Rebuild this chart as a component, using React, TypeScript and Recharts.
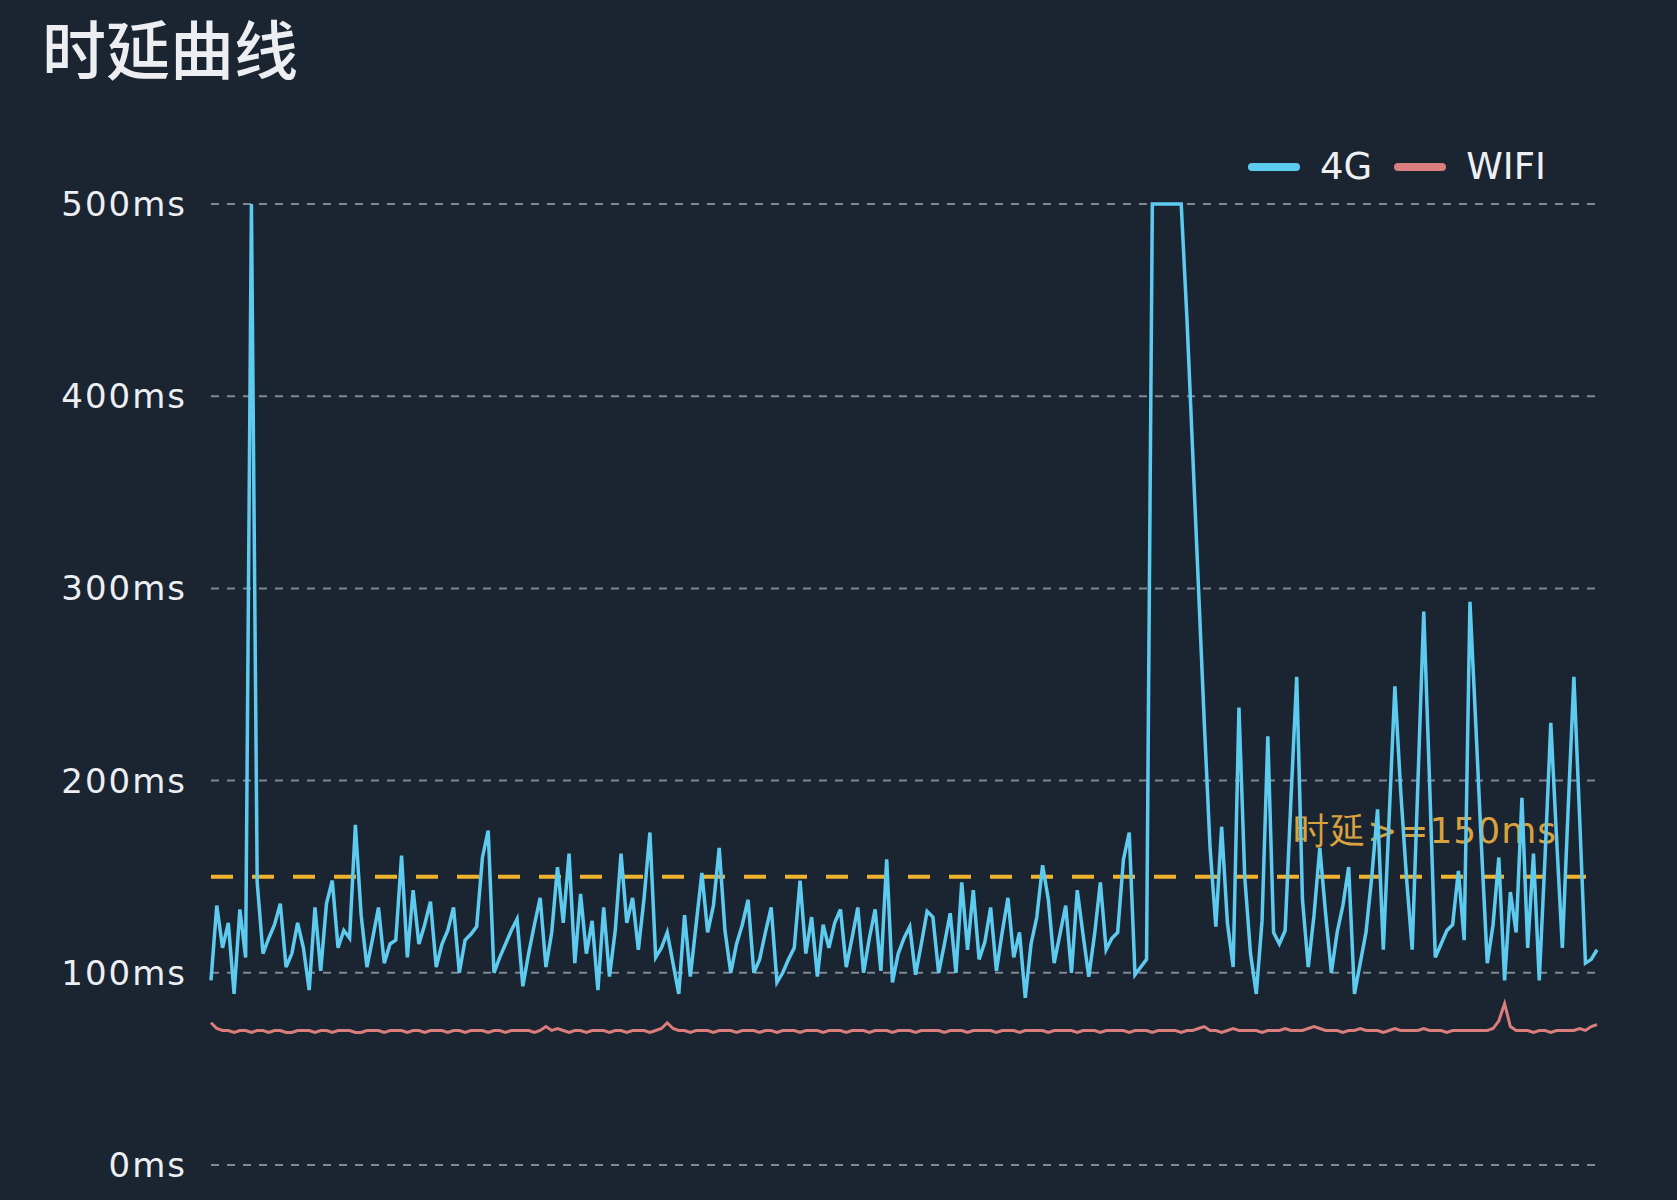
import React from 'react';
import { LineChart, Line, XAxis, YAxis, CartesianGrid, ReferenceLine } from 'recharts';

// latency samples (ms)
const latency4g = [
  96, 135, 113, 126, 89, 133, 108, 500, 147, 110, 118, 125, 136, 103, 110, 126, 113, 91, 134, 101,
  136, 148, 113, 122, 118, 177, 130, 103, 118, 134, 105, 115, 117, 161, 108, 143, 115, 125, 137, 103,
  115, 122, 134, 100, 117, 120, 124, 160, 174, 100, 108, 115, 122, 128, 93, 110, 125, 139, 103, 121,
  155, 126, 162, 105, 141, 110, 127, 91, 134, 98, 122, 162, 126, 139, 112, 139, 173, 108, 113, 121,
  105, 89, 130, 98, 125, 152, 121, 135, 165, 122, 100, 115, 125, 138, 100, 107, 121, 134, 95, 100,
  107, 113, 148, 110, 129, 98, 125, 113, 126, 133, 103, 118, 134, 100, 118, 133, 101, 159, 95, 110,
  118, 124, 99, 115, 132, 129, 100, 115, 131, 100, 147, 112, 143, 107, 116, 134, 101, 121, 139, 108,
  121, 87, 115, 129, 156, 138, 105, 120, 135, 100, 143, 120, 98, 120, 147, 112, 118, 121, 159, 173,
  99, 103, 107, 500, 500, 500, 500, 500, 500, 440, 370, 300, 230, 165, 124, 176, 126, 103, 238, 150,
  110, 89, 127, 223, 121, 115, 122, 190, 254, 138, 103, 130, 165, 131, 100, 121, 135, 155, 89, 105,
  121, 150, 185, 112, 180, 249, 195, 150, 112, 200, 288, 200, 108, 115, 122, 125, 153, 117, 293, 230,
  165, 105, 125, 160, 96, 142, 121, 191, 113, 162, 96, 160, 230, 170, 113, 185, 254, 180, 105, 107,
  112,
];

const latencyWifi = [
  74, 71, 70, 70, 69, 70, 70, 69, 70, 70, 69, 70, 70, 69, 69, 70, 70, 70, 69, 70,
  70, 69, 70, 70, 70, 69, 69, 70, 70, 70, 69, 70, 70, 70, 69, 70, 70, 69, 70, 70,
  70, 69, 70, 70, 69, 70, 70, 70, 69, 70, 70, 69, 70, 70, 70, 70, 69, 70, 72, 70,
  71, 70, 69, 70, 70, 69, 70, 70, 70, 69, 70, 70, 69, 70, 70, 70, 69, 70, 71, 74,
  71, 70, 70, 69, 70, 70, 70, 69, 70, 70, 70, 69, 70, 70, 70, 69, 70, 70, 69, 70,
  70, 70, 69, 70, 70, 70, 69, 70, 70, 70, 69, 70, 70, 70, 69, 70, 70, 70, 69, 70,
  70, 70, 69, 70, 70, 70, 70, 69, 70, 70, 70, 69, 70, 70, 70, 70, 69, 70, 70, 70,
  69, 70, 70, 70, 70, 69, 70, 70, 70, 70, 69, 70, 70, 70, 69, 70, 70, 70, 70, 69,
  70, 70, 70, 69, 70, 70, 70, 70, 69, 70, 70, 71, 72, 70, 70, 69, 70, 71, 70, 70,
  70, 70, 69, 70, 70, 70, 71, 70, 70, 70, 71, 72, 71, 70, 70, 70, 69, 70, 70, 71,
  70, 70, 70, 69, 70, 71, 70, 70, 70, 70, 71, 70, 70, 70, 69, 70, 70, 70, 70, 70,
  70, 70, 71, 75, 84, 72, 70, 70, 70, 69, 70, 70, 69, 70, 70, 70, 70, 71, 70, 72,
  73,
];

const yTicks = [0, 100, 200, 300, 400, 500];
const threshold = 150;
const thresholdLabel = '时延>=150ms';
const series = [
  { key: 'g4', name: '4G', color: '#5ccbef' },
  { key: 'wifi', name: 'WIFI', color: '#d97e7c' },
];

const data = latency4g.map((v, i) => ({ idx: i, g4: v, wifi: latencyWifi[i] }));

const BG = '#1b2431';
const FONT = '"DejaVu Sans", "Noto Sans", sans-serif';

const LegendBox = () => (
  <div
    style={{
      position: 'absolute',
      left: 1248,
      top: 145,
      display: 'flex',
      alignItems: 'center',
      fontFamily: FONT,
      fontSize: 37,
      color: '#eef0f3',
    }}
  >
    {series.map((s) => (
      <div key={s.key} style={{ display: 'flex', alignItems: 'center', marginRight: 22 }}>
        <span style={{ display: 'inline-block', width: 52, height: 8, borderRadius: 4, background: s.color, marginRight: 20 }} />
        <span>{s.name}</span>
      </div>
    ))}
  </div>
);

const ThresholdLabel = (props: any) => {
  const vb = props.viewBox || {};
  return (
    <text
      x={vb.x + vb.width - 40}
      y={vb.y - 46}
      textAnchor="end"
      dominantBaseline="central"
      fill="#d9a23c"
      fontSize={36}
      fontFamily={FONT}
      letterSpacing={1}
    >
      {thresholdLabel}
    </text>
  );
};

export default function App() {
  return (
    <div style={{ position: 'fixed', left: 0, top: 0, width: 1677, height: 1200, background: BG, overflow: 'hidden' }}>
      <div
        style={{
          position: 'absolute',
          left: 42,
          top: 14,
          fontFamily: '"Noto Sans CJK SC", sans-serif',
          fontSize: 64,
          fontWeight: 500,
          lineHeight: 1,
          color: '#eceef1',
        }}
      >
        时延曲线
      </div>
      <LegendBox />
      <LineChart width={1677} height={1200} data={data} margin={{ top: 204, right: 80, bottom: 35, left: 0 }}>
        <CartesianGrid vertical={false} stroke="#7f8893" strokeWidth={2} strokeDasharray="8 8" />
        <XAxis dataKey="idx" hide />
        <YAxis
          width={211}
          domain={[0, 500]}
          ticks={yTicks}
          interval={0}
          axisLine={false}
          tickLine={false}
          tickSize={0}
          tickMargin={24}
          tickFormatter={(v: number) => `${v}ms`}
          tick={{ fill: '#eceef1', fontSize: 34, fontFamily: FONT, letterSpacing: 2 }}
        />
        <ReferenceLine
          y={threshold}
          stroke="#f0b32e"
          strokeWidth={4}
          strokeDasharray="22 19"
          label={<ThresholdLabel />}
        />
        <Line type="linear" dataKey="g4" name="4G" stroke={series[0].color} strokeWidth={3.5} dot={false} isAnimationActive={false} />
        <Line type="linear" dataKey="wifi" name="WIFI" stroke={series[1].color} strokeWidth={3} dot={false} isAnimationActive={false} />
      </LineChart>
    </div>
  );
}
